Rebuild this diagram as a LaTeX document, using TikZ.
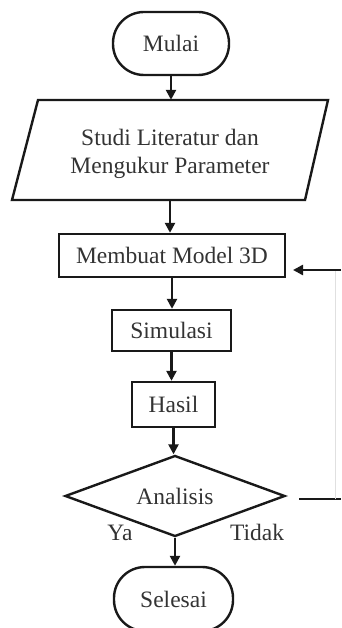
\documentclass[tikz,border=0pt]{standalone}
\usepackage{fontspec}
\setmainfont{Liberation Serif}
\usetikzlibrary{shapes.geometric,arrows.meta}
\begin{document}
\begin{tikzpicture}[x=1pt,y=-1pt,
  every node/.style={font=\fontsize{23.5}{28}\selectfont,text=black!80},
  ln/.style={line width=2.4pt,draw=black!90},
  arr/.style={ln,-{Triangle[length=10pt,width=10pt]}},
  term/.style={ln,rectangle,rounded corners=31pt,inner sep=0},
  proc/.style={ln,rectangle,inner sep=0},
  dec/.style={ln,diamond,inner sep=0,aspect=2.7},
  lbl/.style={inner sep=0}
]
\useasboundingbox (0,0) rectangle (341,628);
\clip (0,0) rectangle (341,628);
% nodes
\node[term,minimum width=116pt,minimum height=63pt] (mulai) at (171,43.5) {Mulai};
\node[lbl,align=center,minimum width=270pt,minimum height=100pt] (studi) at (170,150) {};
\node[lbl,align=center] (studitxt) at (170,154) {Studi Literatur dan\\Mengukur Parameter};
\coordinate (p1) at (12,200);
\coordinate (p2) at (38,100);
\coordinate (p3) at (328,100);
\coordinate (p4) at (305,200);
\draw[ln,line join=miter] (p1) -- (p2) -- (p3) -- (p4) -- cycle;
\node[proc,minimum width=226pt,minimum height=43pt] (model) at (172,255.5) {Membuat Model 3D};
\node[proc,minimum width=119pt,minimum height=41pt] (sim) at (171.5,330.5) {Simulasi};
\node[proc,minimum width=83pt,minimum height=45pt] (hasil) at (173.5,404.5) {Hasil};
\node[dec,minimum width=220pt,minimum height=81pt] (analisis) at (175,496) {Analisis};
\node[term,minimum width=119pt,minimum height=64pt] (selesai) at (173.5,599) {Selesai};
\node[lbl] (ya) at (120,533) {Ya};
\node[lbl] (tidak) at (257,532) {Tidak};
% connectors
\draw[arr] (mulai.south) -- (mulai.south |- studi.north);
\draw[arr] (studi.south) -- (studi.south |- model.north);
\draw[arr] (model.south) -- (model.south |- sim.north);
\draw[arr] (sim.south) -- (sim.south |- hasil.north);
\draw[arr] (hasil.south) -- (hasil.south |- analisis.north);
\draw[arr] (analisis.south) -- (analisis.south |- selesai.north);
% feedback
\coordinate (fbs) at ([xshift=13pt,yshift=-3pt]analisis.east);
\coordinate (fbe) at (341,499);
\coordinate (fbc) at (335,499);
\coordinate (fbt) at (335,270);
\coordinate (fbr) at (341,270);
\coordinate (fbtip) at (293,270);
\draw[ln] (fbs) -- (fbe);
\draw[black!12,line width=1pt] (fbc) -- (fbt);
\draw[arr] (fbr) -- (fbtip);
\end{tikzpicture}
\end{document}
